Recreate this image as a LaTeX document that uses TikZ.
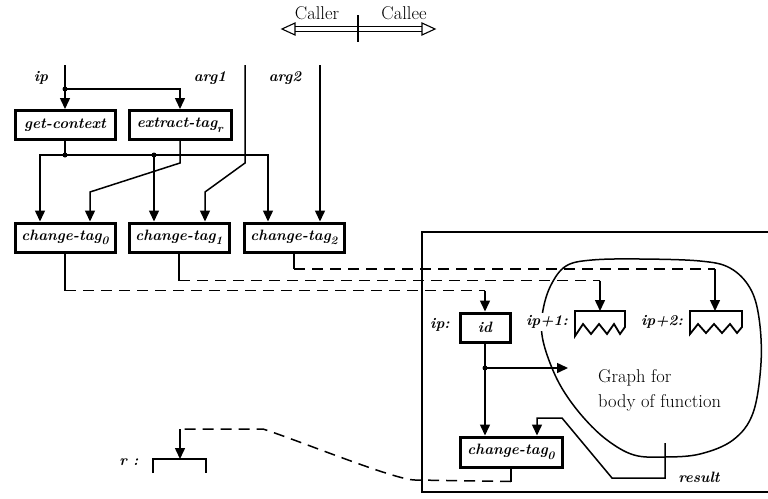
\documentclass[tikz,border=0pt]{standalone}
\usepackage{fontspec}
\usetikzlibrary{arrows.meta,calc}
\newcommand\bilab{\fontsize{15}{17}\selectfont\bfseries\itshape}
\newcommand\rmlab{\fontsize{18.5}{25}\selectfont}
\newcommand\subx[1]{\raisebox{-4.5pt}{\fontsize{11.5}{12}\selectfont #1}}
\begin{document}
\begin{tikzpicture}[x=1pt,y=-1pt,
  box/.style={draw,line width=3pt,minimum height=29pt,inner sep=0pt,font=\bilab},
  arr/.style={line width=1.5pt,-{Triangle[length=11pt,width=10pt]}},
  ln/.style={line width=1.5pt},
  dsh/.style={line width=1.5pt,dash pattern=on 11pt off 7pt},
  dot/.style={circle,fill,inner sep=0pt,minimum size=5pt},
  lab/.style={font=\bilab,inner sep=1pt}]
\useasboundingbox (0,0) rectangle (768,498);

% Caller / Callee
\coordinate (cl) at (282,29);
\coordinate (ce) at (435,29);
\draw[line width=1.1pt] (295,26.5) -- (422,26.5) (295,31.5) -- (422,31.5);
\draw[line width=1.1pt] (cl) -- (295,23) -- (295,35) -- cycle;
\draw[line width=1.1pt] (ce) -- (422,23) -- (422,35) -- cycle;
\draw[line width=1.1pt] (358,15) -- (358,42);
\node[font=\rmlab,inner sep=0pt] (caller) at (317,13) {Caller};
\node[font=\rmlab,inner sep=0pt] (callee) at (404,13) {Callee};

% boxes
\node[box,minimum width=100pt] (gc) at (65,125) {get-context};
\node[box,minimum width=102pt] (et) at (180,125) {extract-tag\subx{r}};
\node[box,minimum width=100pt] (c0) at (65,237.5) {change-tag\subx{0}};
\node[box,minimum width=100pt] (c1) at (179,237.5) {change-tag\subx{1}};
\node[box,minimum width=100pt] (c2) at (294,237.5) {change-tag\subx{2}};
\node[box,minimum width=50pt] (id) at (485,327.5) {id};
\node[box,minimum width=102pt,minimum height=30pt] (c3) at (511,452) {change-tag\subx{0}};

% input points
\coordinate (c0a) at ($(c0.north)+(-25,0)$);
\coordinate (c0b) at ($(c0.north)+(25,0)$);
\coordinate (c1a) at ($(c1.north)+(-25,0)$);
\coordinate (c1b) at ($(c1.north)+(26,0)$);
\coordinate (c2a) at ($(c2.north)+(-26,0)$);
\coordinate (c2b) at ($(c2.north)+(26,0)$);
\coordinate (c3a) at ($(c3.north)+(-26,0)$);
\coordinate (c3b) at ($(c3.north)+(26,0)$);

% top labels
\node[lab] (lip) at (41,78) {ip};
\node[lab] (larg1) at (210,78) {arg1};
\node[lab] (larg2) at (285,78) {arg2};
\coordinate (ipT) at (65,65);
\coordinate (a1T) at (245,65);
\coordinate (a2T) at (320,65);

\draw[arr] (ipT) -- (gc.north);
\node[dot] (d1) at (65,89) {};
\draw[arr] (d1.center) -| (et.north);
\draw[arr] (a1T) -- (245,163) -- (c1b |- 0,192) -- (c1b);
\draw[arr] (a2T) -- (c2b);

% context distribution
\node[dot] (d2) at (gc.south |- 0,155) {};
\node[dot] (d3) at (c1a |- 0,155) {};
\draw[ln] (gc.south) -- (d2.center);
\draw[arr] (d2.center) -- (c0a |- 0,155) -- (c0a);
\draw[arr] (d2.center) -- (c2a |- 0,155) -- (c2a);
\draw[arr] (d3.center) -- (c1a);
\draw[arr] (et.south) -- (180,163) -- (c0b |- 0,192) -- (c0b);

% frame
\draw[ln] (768,232) -- (422,232) -- (422,492) -- (768,492);

% blob
\draw[line width=1.5pt] plot[smooth cycle, tension=0.6] coordinates {
 (542,335) (550,363) (563,390) (583,417) (607,440) (634,455) (665,457)
 (700,454) (733,440) (753,413) (761,363) (759,318) (750,288) (730,268)
 (700,261) (640,259) (592,260) (566,266) (551,285) (543,310)};

% zigzag boxes
\begin{scope}[shift={(575,311)}]
\draw[line width=1.8pt] (0,0) -- (0,25) -- (8,13) -- (16,23) -- (24,13) -- (32,23) -- (39,13) -- (45,23) -- (50,16) -- (50,0) -- cycle;
\coordinate (z1) at (25,0);
\end{scope}
\begin{scope}[shift={(690,311)}]
\draw[line width=1.8pt] (0,0) -- (0,23) -- (8,13) -- (16,22) -- (24,13) -- (32,22) -- (40,13) -- (47,22) -- (52,16) -- (52,0) -- cycle;
\coordinate (z2) at (25,0);
\end{scope}
\node[lab,fill=white,inner sep=2pt] (lip1) at (547,322) {ip+1:};
\node[lab] (lip2) at (662,322) {ip+2:};
\node[lab] (lipid) at (440,325) {ip:};

% dashed links
\draw[ln] (c0.south) -- ++(0,37) coordinate (c0o);
\draw[dsh] (c0o) -- (c0o -| id.north) coordinate (idin);
\draw[arr] (idin) -- (id.north);
\draw[ln] (c1.south) -- ++(0,27) coordinate (c1o);
\draw[dsh] (c1o) -- (c1o -| z1) coordinate (z1in);
\draw[arr] (z1in) -- (z1);
\draw[ln] (c2.south) -- ++(0,15.5) coordinate (c2o);
\draw[dsh] (c2o) -- (c2o -| z2) coordinate (z2in);
\draw[arr] (z2in) -- (z2);

% inside
\node[dot] (d4) at (485,368) {};
\draw[ln] (id.south) -- (d4.center);
\draw[arr] (d4.center) -- (c3a);
\coordinate (gin) at (568,368);
\draw[arr] (d4.center) -- (gin);
\node[font=\rmlab,anchor=west,align=left,inner sep=0pt] (graph) at (598,390) {Graph for\\body of function};
\coordinate (res) at (665,443);
\draw[arr] (res) -- (665,478) -- (612,478) -- (562,418) -- (c3b |- 0,418) -- (c3b);
\node[lab] (lres) at (699,477) {result};

% result to r
\draw[ln] (c3.south) -- ++(0,13) coordinate (c3o);
\coordinate (rc) at (180,429);
\draw[dsh] (c3o) -- (415,480) .. controls (395,480) and (300,441) .. (263,429) -- (rc);
\coordinate (rin) at (180,459);
\draw[arr] (rc) -- (rin);
\draw[line width=1.8pt] (153,473) -- (153,459) -- (206,459) -- (206,473);
\node[lab] (lr) at (129,462) {r :};
\end{tikzpicture}
\end{document}
